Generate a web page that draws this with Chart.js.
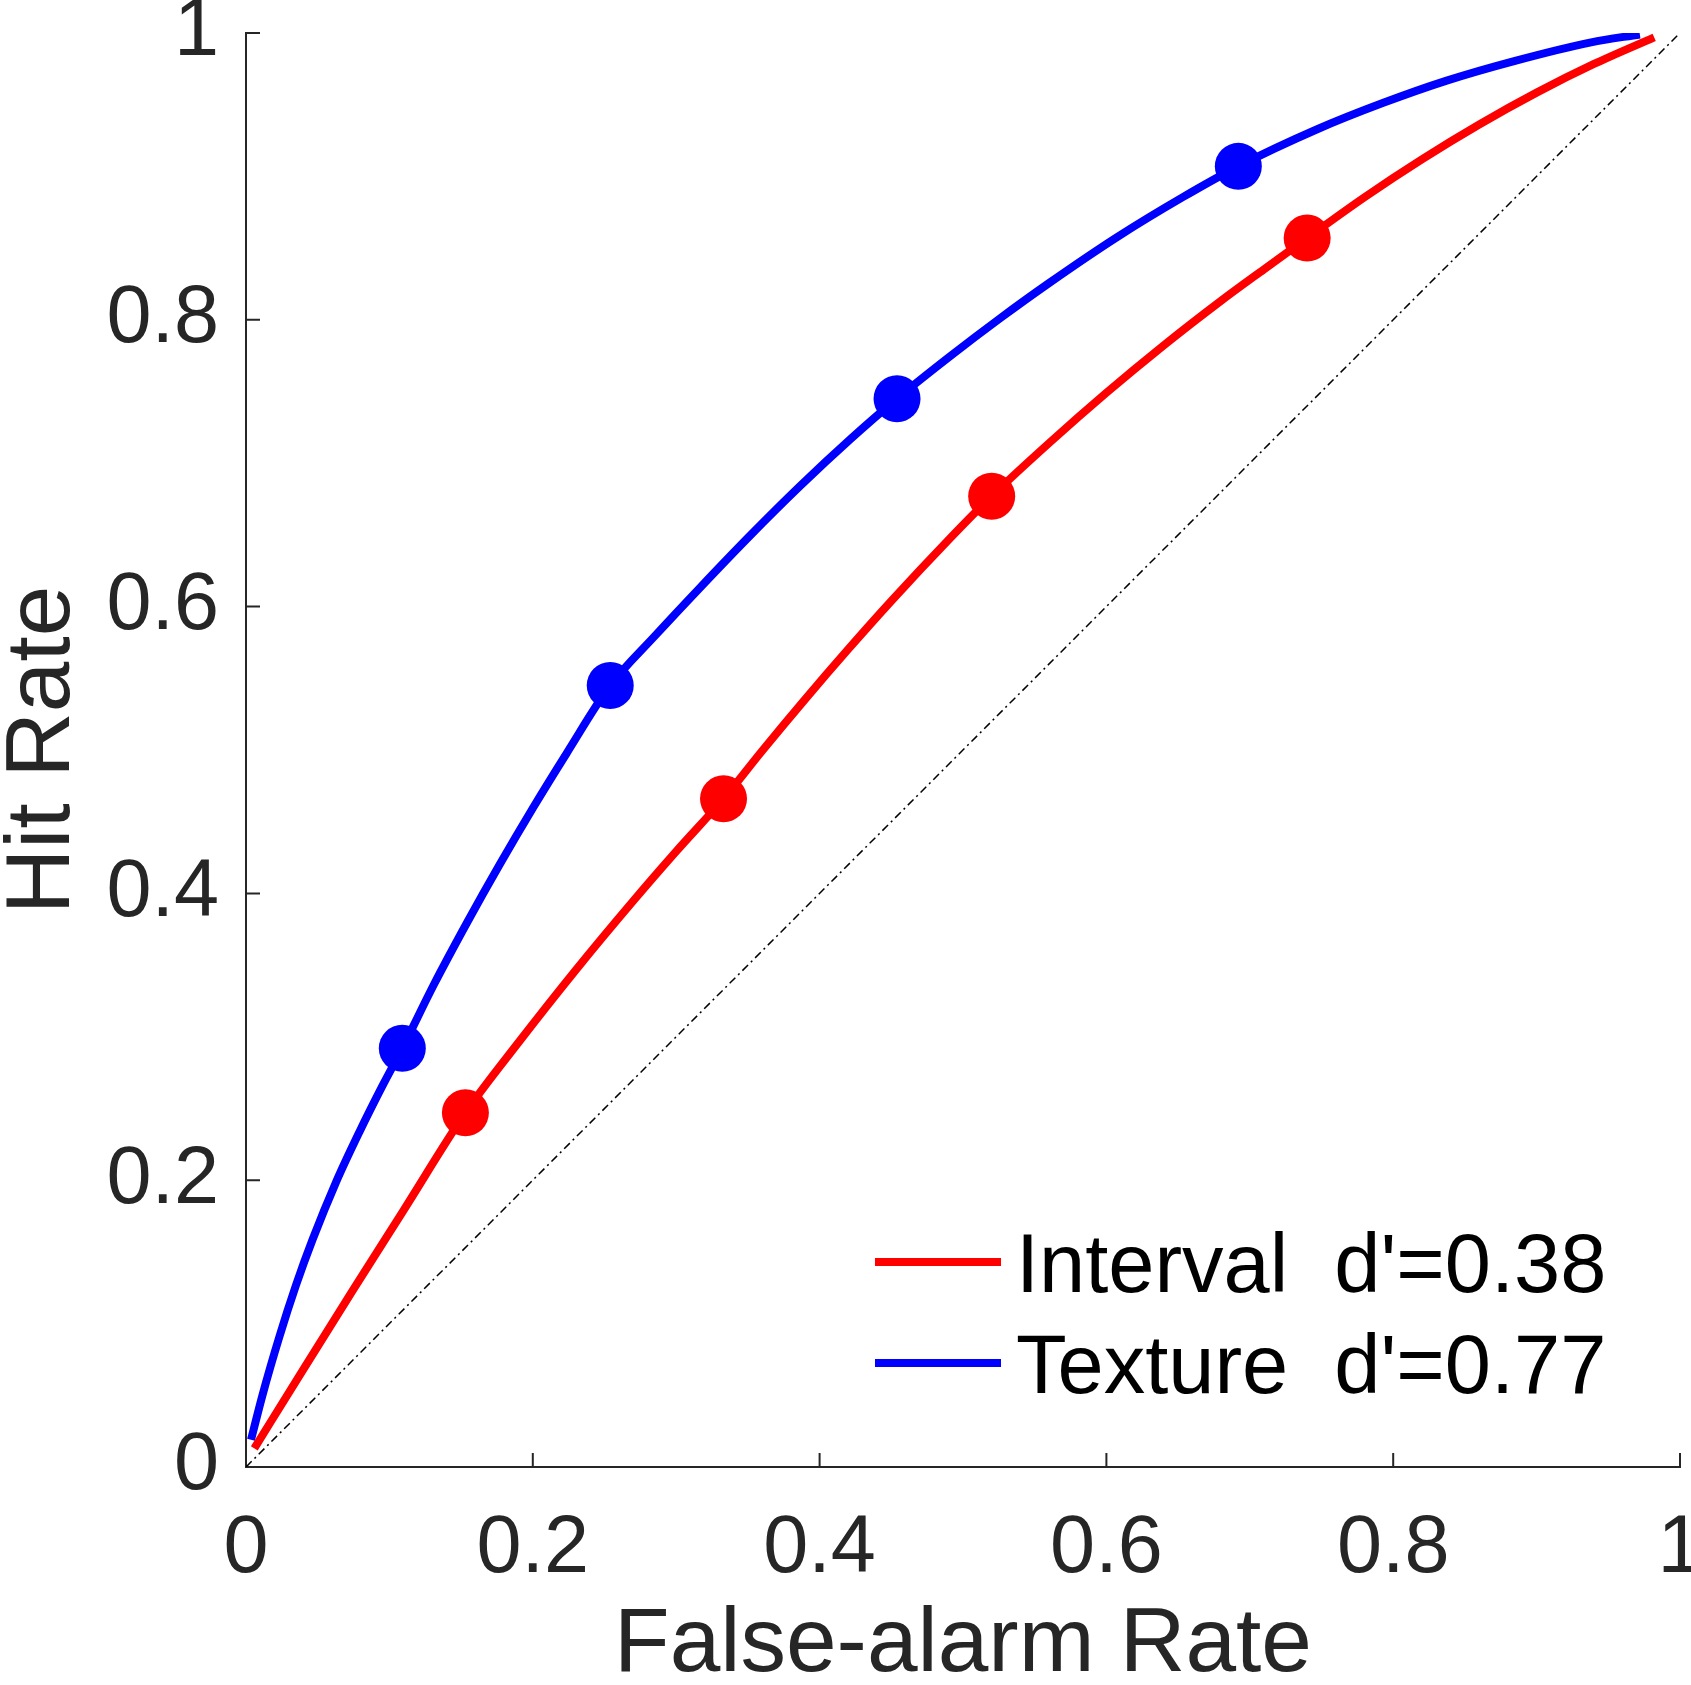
<!DOCTYPE html>
<html>
<head>
<meta charset="utf-8">
<title>ROC curves</title>
<script src="https://cdn.jsdelivr.net/npm/chart.js@4.4.1/dist/chart.umd.min.js"></script>
<style>
    html, body { margin: 0; padding: 0; background: #fff; }
    #wrap { width: 1691px; height: 1685px; }
</style>
</head>
<body>
<div id="wrap"><canvas id="rocChart" width="1691" height="1685"></canvas></div>
<script>
// Values (false-alarm rate -> hit rate)

// Fitted ROC curve, Interval condition
const intervalCurveFA  = [0.0058, 0.04, 0.075, 0.11, 0.153, 0.19, 0.23, 0.27, 0.30, 0.333, 0.36, 0.39, 0.42, 0.45, 0.49, 0.520, 0.56, 0.60, 0.64, 0.68, 0.71, 0.740, 0.78, 0.82, 0.86, 0.90, 0.94, 0.982];
const intervalCurveHit = [0.013, 0.0681, 0.124, 0.1792, 0.247, 0.2960, 0.3466, 0.3947, 0.4293, 0.466, 0.4995, 0.5355, 0.5703, 0.6039, 0.6466, 0.677, 0.714, 0.7491, 0.7822, 0.8133, 0.8353, 0.857, 0.8855, 0.9119, 0.9362, 0.9584, 0.9784, 0.997];

// Fitted ROC curve, Texture condition
const textureCurveFA  = [0.0035, 0.0116, 0.0233, 0.0349, 0.0465, 0.0628, 0.0790, 0.0953, 0.109, 0.1306, 0.1539, 0.1771, 0.2004, 0.2236, 0.254, 0.285, 0.3166, 0.3515, 0.3863, 0.4212, 0.454, 0.4909, 0.5258, 0.5607, 0.6072, 0.6536, 0.692, 0.7466, 0.7931, 0.8373, 0.885, 0.938, 0.972];
const textureCurveHit = [0.0190, 0.0505, 0.0909, 0.1269, 0.1588, 0.1987, 0.2335, 0.2661, 0.292, 0.3356, 0.3792, 0.4205, 0.4601, 0.4977, 0.545, 0.5794, 0.6132, 0.6495, 0.684, 0.7165, 0.745, 0.7745, 0.801, 0.8261, 0.8575, 0.8857, 0.907, 0.9327, 0.9513, 0.9668, 0.9806, 0.9935, 0.999];

// Observed points
const intervalPointsFA  = [0.153, 0.333, 0.520, 0.740];
const intervalPointsHit = [0.247, 0.466, 0.677, 0.857];
const texturePointsFA   = [0.109, 0.254, 0.454, 0.692];
const texturePointsHit  = [0.292, 0.545, 0.745, 0.907];

// Chance diagonal
const chanceFA  = [0, 1];
const chanceHit = [0, 1];

const seriesLabels = ["Interval  d'=0.38", "Texture  d'=0.77"];
const axisTicks = [0, 0.2, 0.4, 0.6, 0.8, 1];

// Colors / fonts
const axisColor = '#262626';
const red = '#ff0000';
const blue = '#0000ff';
const fontFamily = "'Liberation Sans', Arial, Helvetica, sans-serif";

Chart.defaults.font.family = fontFamily;
Chart.defaults.color = axisColor;

function zip(xs, ys) {
    return xs.map((x, i) => ({ x: x, y: ys[i] }));
}

// Inward tick marks and the in-plot legend, MATLAB style
const matlabAxes = {
    id: 'matlabAxes',
    beforeDatasetsDraw(chart) {
        const { ctx, chartArea: a, scales: { x, y } } = chart;
        const tickLen = 14;
        ctx.save();
        ctx.strokeStyle = axisColor;
        ctx.lineWidth = 2;
        ctx.beginPath();
        axisTicks.forEach(v => {
            const px = x.getPixelForValue(v);
            ctx.moveTo(px, a.bottom);
            ctx.lineTo(px, a.bottom - tickLen);
            const py = y.getPixelForValue(v);
            ctx.moveTo(a.left, py);
            ctx.lineTo(a.left + tickLen, py);
        });
        ctx.stroke();
        ctx.restore();
    },
    afterDraw(chart) {
        const ctx = chart.ctx;
        const lineStart = 875, lineEnd = 1001, textX = 1016;
        let rowY = 1262;
        const rowGap = 101;
        ctx.save();
        ctx.font = '83px ' + fontFamily;
        ctx.textAlign = 'left';
        ctx.textBaseline = 'alphabetic';
        chart.data.datasets.filter(d => d.label).forEach(d => {
            ctx.strokeStyle = d.borderColor;
            ctx.lineWidth = 8;
            ctx.beginPath();
            ctx.moveTo(lineStart, rowY);
            ctx.lineTo(lineEnd, rowY);
            ctx.stroke();
            ctx.fillStyle = '#000';
            ctx.fillText(d.label, textX, rowY + 30);
            rowY += rowGap;
        });
        ctx.restore();
    }
};

const ctx = document.getElementById('rocChart').getContext('2d');
new Chart(ctx, {
    type: 'scatter',
    data: {
        datasets: [
            {
                label: seriesLabels[0],
                data: zip(intervalCurveFA, intervalCurveHit),
                showLine: true,
                borderColor: red,
                borderWidth: 8,
                pointRadius: 0,
                cubicInterpolationMode: 'monotone',
                order: 1
            },
            {
                label: seriesLabels[1],
                data: zip(textureCurveFA, textureCurveHit),
                showLine: true,
                borderColor: blue,
                borderWidth: 8,
                pointRadius: 0,
                cubicInterpolationMode: 'monotone',
                order: 1
            },
            {
                data: zip(intervalPointsFA, intervalPointsHit),
                pointRadius: 23.5,
                pointBackgroundColor: red,
                pointBorderWidth: 0,
                order: 0
            },
            {
                data: zip(texturePointsFA, texturePointsHit),
                pointRadius: 23.5,
                pointBackgroundColor: blue,
                pointBorderWidth: 0,
                order: 0
            },
            {
                data: zip(chanceFA, chanceHit),
                showLine: true,
                borderColor: '#000',
                borderWidth: 1.5,
                borderDash: [8, 4, 2, 4],
                pointRadius: 0,
                order: 2
            }
        ]
    },
    options: {
        responsive: false,
        animation: false,
        layout: { autoPadding: false, padding: { top: 33, right: 11, left: 0, bottom: 0 } },
        plugins: {
            legend: { display: false },
            tooltip: { enabled: false }
        },
        scales: {
            x: {
                type: 'linear',
                min: 0,
                max: 1,
                afterBuildTicks: s => { s.ticks = axisTicks.map(v => ({ value: v })); },
                afterFit: s => { s.height = 218; s.paddingLeft = 0; s.paddingRight = 0; },
                ticks: {
                    callback: v => String(v),
                    font: { size: 81 },
                    color: axisColor,
                    padding: 34,
                    maxRotation: 0
                },
                grid: { display: false, drawTicks: false },
                border: { display: true, color: axisColor, width: 2 },
                title: {
                    display: true,
                    text: 'False-alarm Rate',
                    color: axisColor,
                    font: { size: 91, lineHeight: 1 },
                    padding: { top: 0, bottom: -6 }
                }
            },
            y: {
                type: 'linear',
                min: 0,
                max: 1,
                afterBuildTicks: s => { s.ticks = axisTicks.map(v => ({ value: v })); },
                afterFit: s => { s.width = 246; s.paddingTop = 0; s.paddingBottom = 0; },
                ticks: {
                    callback: v => String(v),
                    font: { size: 81 },
                    color: axisColor,
                    padding: 27
                },
                grid: { display: false, drawTicks: false },
                border: { display: true, color: axisColor, width: 2 },
                title: {
                    display: true,
                    text: 'Hit Rate',
                    color: axisColor,
                    font: { size: 91, lineHeight: 1 },
                    padding: { top: -2, bottom: 0 }
                }
            }
        }
    },
    plugins: [matlabAxes]
});
</script>
</body>
</html>
